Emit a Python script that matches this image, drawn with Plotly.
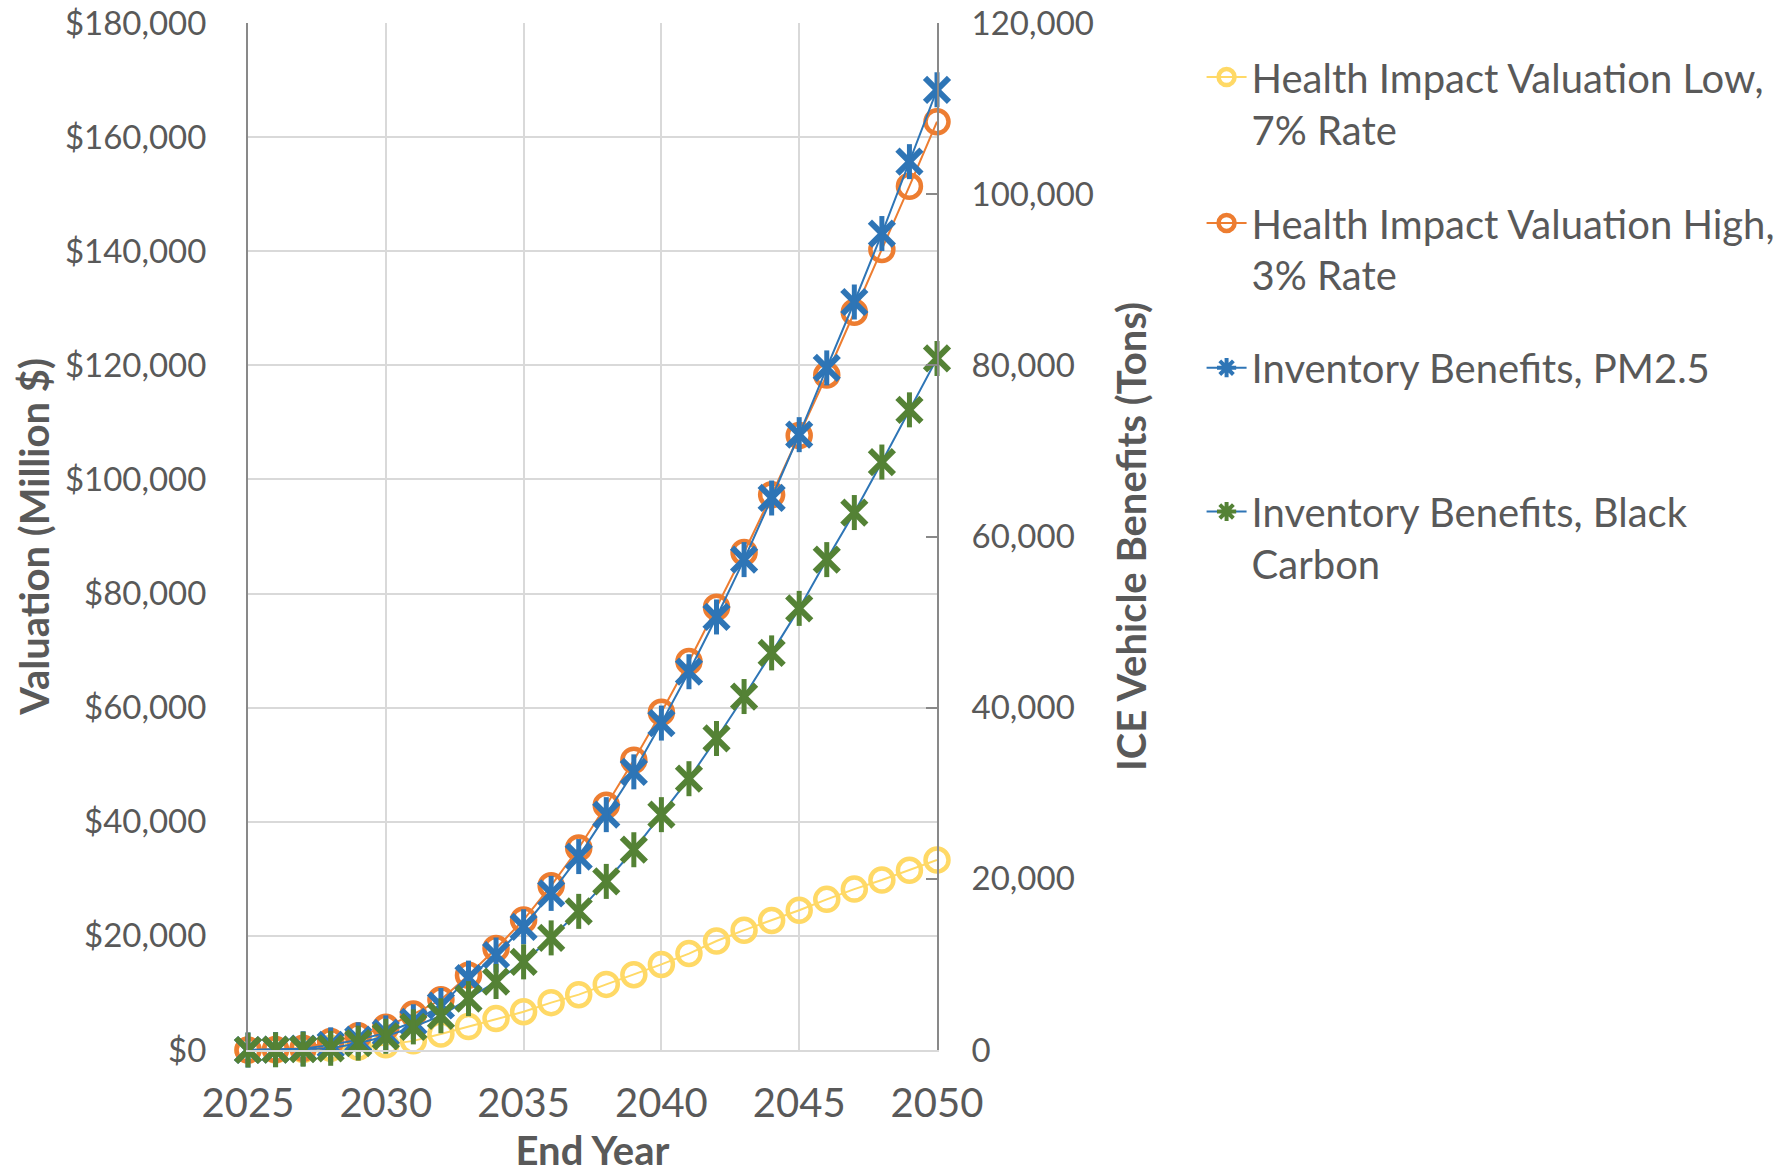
import plotly.graph_objects as go

years = list(range(2025, 2051))

health_low_7pct = [0, 0, 100, 300, 500, 900, 1600, 2800, 4100, 5500, 6700, 8300, 9700,
                   11500, 13200, 15000, 16900, 19100, 21000, 22700, 24500, 26400, 28200,
                   29800, 31500, 33300]
health_high_3pct = [0, 100, 300, 1500, 2500, 4000, 6300, 8800, 13100, 17800, 22800, 28800,
                    35400, 42900, 50800, 59200, 68100, 77600, 87200, 97300, 107700, 118300,
                    129300, 140300, 151400, 162700]
inv_pm25 = [0, 50, 150, 600, 1200, 2000, 3300, 5200, 8400, 11100, 14400, 18300, 22600,
            27500, 32500, 38200, 44200, 50600, 57300, 64500, 71900, 79700, 87400, 95400,
            103800, 112200]
inv_black_carbon = [0, 30, 100, 200, 800, 1600, 2700, 4000, 6000, 8000, 10300, 13100, 16200,
                    19700, 23400, 27500, 31700, 36400, 41300, 46400, 51600, 57300, 62800,
                    68700, 74800, 80800]

names = ["Health Impact Valuation Low,<br>7% Rate",
         "Health Impact Valuation High,<br>3% Rate",
         "Inventory Benefits, PM2.5",
         "Inventory Benefits, Black<br>Carbon"]

YELLOW = "#FFD966"
ORANGE = "#ED7D31"
BLUE = "#2E75B6"
GREEN = "#548235"
TXT = "#595959"
GRID = "#D9D9D9"
AXIS = "#898989"
FONT = "Lato"

fig = go.Figure()

# Health impact series (primary axis)
fig.add_trace(go.Scatter(
    x=years, y=health_low_7pct, name=names[0], mode="lines+markers",
    line=dict(color=YELLOW, width=2),
    marker=dict(symbol="circle-open", size=23, line=dict(width=4.5, color=YELLOW), color=YELLOW),
    legend="legend", cliponaxis=False))
fig.add_trace(go.Scatter(
    x=years, y=health_high_3pct, name=names[1], mode="lines+markers",
    line=dict(color=ORANGE, width=2),
    marker=dict(symbol="circle-open", size=23, line=dict(width=4.5, color=ORANGE), color=ORANGE),
    legend="legend2", cliponaxis=False))

# Inventory series (secondary axis): star marker = x + vertical bar
for vals, mcol, leg, nm in [(inv_pm25, BLUE, "legend3", names[2]),
                            (inv_black_carbon, GREEN, "legend4", names[3])]:
    fig.add_trace(go.Scatter(
        x=years, y=vals, yaxis="y2", mode="lines+markers", showlegend=False,
        line=dict(color=BLUE, width=2),
        marker=dict(symbol="x-thin-open", size=24, line=dict(width=6, color=mcol), color=mcol),
        cliponaxis=False, hoverinfo="skip"))
    fig.add_trace(go.Scatter(
        x=years, y=vals, yaxis="y2", mode="markers", showlegend=False,
        marker=dict(symbol="line-ns-open", size=25, line=dict(width=5, color=mcol), color=mcol),
        cliponaxis=False, name=nm.replace("<br>", " ")))
    # legend entry
    fig.add_trace(go.Scatter(
        x=[None], y=[None], yaxis="y2", mode="lines+markers", name=nm, legend=leg,
        line=dict(color=BLUE, width=2),
        marker=dict(symbol="asterisk-open", size=16, line=dict(width=4, color=mcol), color=mcol)))

legend_common = dict(
    x=1.384, xanchor="left", yanchor="top", bgcolor="rgba(0,0,0,0)",
    font=dict(family=FONT, size=40, color=TXT), valign="top", itemwidth=40)

fig.update_layout(
    width=1784, height=1174,
    margin=dict(l=248, r=847, t=23, b=124, autoexpand=False),
    paper_bgcolor="white", plot_bgcolor="white",
    font=dict(family=FONT, size=32, color=TXT),
    xaxis=dict(
        range=[2025, 2050], dtick=5, tick0=2025, showgrid=True, gridcolor=GRID, gridwidth=2,
        showline=True, linecolor=GRID, linewidth=2, zeroline=False, ticks="",
        tickfont=dict(family=FONT, size=40, color=TXT), ticklabelstandoff=17,
        automargin=False,
        title=dict(text="<b>End Year</b>", font=dict(family=FONT, size=40, color=TXT), standoff=33)),
    yaxis=dict(
        range=[0, 180000], dtick=20000, tickprefix="$", tickformat=",",
        showgrid=True, gridcolor=GRID, gridwidth=2, zeroline=False,
        showline=True, linecolor=AXIS, linewidth=2, ticks="", automargin=False,
        tickfont=dict(family=FONT, size=33, color=TXT), ticklabelstandoff=33,
        title=dict(text="<b>Valuation (Million $)</b>", font=dict(family=FONT, size=40, color=TXT),
                   standoff=3)),
    yaxis2=dict(
        overlaying="y", side="right", range=[0, 120000], dtick=20000, tickformat=",",
        showgrid=False, zeroline=False, showline=True, linecolor=AXIS, linewidth=2,
        ticks="inside", ticklen=11, tickwidth=2, tickcolor=AXIS, automargin=False,
        tickfont=dict(family=FONT, size=33, color=TXT), ticklabelstandoff=26,
        title=dict(text="<b>ICE Vehicle Benefits (Tons)</b>",
                   font=dict(family=FONT, size=40, color=TXT), standoff=25)),
    legend=dict(legend_common, y=0.979),
    legend2=dict(legend_common, y=0.837),
    legend3=dict(legend_common, y=0.696),
    legend4=dict(legend_common, y=0.556),
)

fig.write_html("out.html", config={"displayModeBar": False},
               post_script="document.body.style.margin='0';")
